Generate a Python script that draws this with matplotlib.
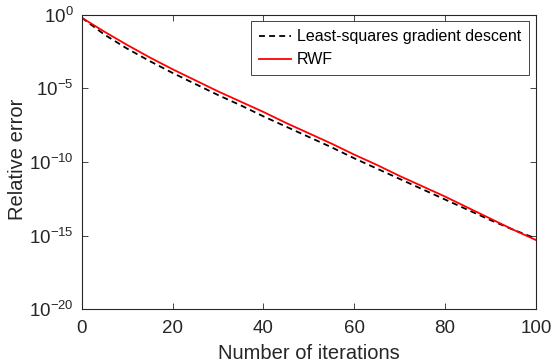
import numpy as np
import matplotlib.pyplot as plt

plt.rcParams['font.family'] = ['Liberation Sans', 'DejaVu Sans']
plt.rcParams['mathtext.fontset'] = 'custom'
plt.rcParams['mathtext.rm'] = 'Liberation Sans'
plt.rcParams['mathtext.it'] = 'Liberation Sans:italic'
plt.rcParams['mathtext.default'] = 'rm'

# iterations and log10 of relative error
iters = [0, 5, 10, 15, 20, 25, 30, 35, 40, 45, 50, 55, 60, 65, 70, 75, 80, 85, 90, 95, 100]
rwf_log10 = [-0.2, -1.15, -2.05, -2.9, -3.7, -4.45, -5.2, -5.9, -6.6, -7.35, -8.05,
             -8.75, -9.5, -10.2, -10.95, -11.65, -12.35, -13.1, -13.85, -14.6, -15.3]
lsgd_log10 = [-0.2, -1.35, -2.3, -3.15, -3.95, -4.7, -5.45, -6.15, -6.9, -7.6, -8.3,
              -9.0, -9.75, -10.45, -11.15, -11.85, -12.55, -13.25, -13.95, -14.6, -15.2]

xticks = [0, 20, 40, 60, 80, 100]
yticks = [1e-20, 1e-15, 1e-10, 1e-5, 1e0]
ytick_labels = [r'$10^{-20}$', r'$10^{-15}$', r'$10^{-10}$', r'$10^{-5}$', r'$10^{0}$']

fig = plt.figure(figsize=(5.53, 3.62), dpi=100)
ax = fig.add_axes([0.148, 0.146, 0.821, 0.813])

ax.plot(iters, 10 ** np.array(lsgd_log10), 'k--', lw=1.3, dashes=(3.3, 2.3),
        label='Least-squares gradient descent')
ax.plot(iters, 10 ** np.array(rwf_log10), color='red', lw=1.3, label='RWF')

ax.set_yscale('log')
ax.set_xlim(0, 100)
ax.set_ylim(1e-20, 1e0)
ax.set_xticks(xticks)
ax.set_yticks(yticks)
ax.set_yticklabels(ytick_labels)
ax.yaxis.set_minor_locator(plt.NullLocator())

axcol = '#262626'
for s in ax.spines.values():
    s.set_color(axcol)
    s.set_linewidth(0.8)
ax.tick_params(direction='in', top=True, right=True, length=4, width=0.6,
               colors=axcol)
ax.tick_params(axis='x', pad=8, labelsize=13.5)
ax.tick_params(axis='y', pad=6, labelsize=13.5)

ax.set_xlabel('Number of iterations', fontsize=14.5, color=axcol)
ax.set_ylabel('Relative error', fontsize=14.5, color=axcol)
ax.xaxis.set_label_coords(0.5, -0.12)
ax.yaxis.set_label_coords(-0.12, 0.51)

leg = ax.legend(loc='upper right', fontsize=11.5, fancybox=False, framealpha=1,
                edgecolor=axcol, handlelength=2.0, handletextpad=0.4,
                borderaxespad=0.4, labelspacing=0.5, borderpad=0.5)
leg.get_frame().set_linewidth(0.6)

fig.savefig('out.png', dpi=100)
